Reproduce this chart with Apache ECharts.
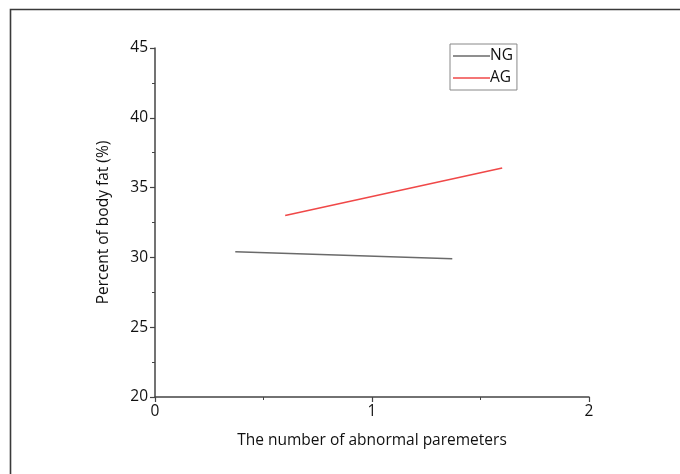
<!DOCTYPE html>
<html>
<head>
<meta charset="utf-8">
<script src="https://cdn.jsdelivr.net/npm/echarts@6/dist/echarts.min.js"></script>
<style>html,body{margin:0;padding:0;background:#fff;}#c{width:680px;height:474px;}</style>
</head>
<body>
<div id="c"></div>
<script>
const seriesNames = ['NG', 'AG'];
const ngData = [[0.37, 30.4], [1.37, 29.9]];
const agData = [[0.6, 33.0], [1.6, 36.4]];
const xTicks = [0, 1, 2];
const yTicks = [20, 25, 30, 35, 40, 45];

const chart = echarts.init(document.getElementById('c'), null, {renderer: 'canvas'});
const font = 'Open Sans';
const axisCol = '#444';
const fs = 15.5;
chart.setOption({
  backgroundColor: '#fff',
  animation: false,
  graphic: [{
    type: 'rect', left: 8, top: 7, shape: {width: 700, height: 500},
    style: {fill: 'none', stroke: '#3a3a3a', lineWidth: 1.6}
  }],
  grid: {left: 155, right: 91, top: 48, bottom: 77},
  legend: {
    data: seriesNames, orient: 'vertical', left: 450, top: 44,
    icon: 'rect', itemWidth: 37, itemHeight: 1.5, itemGap: 6,
    padding: [4, 4, 4, 3],
    borderColor: '#888', borderWidth: 1,
    textStyle: {fontFamily: font, fontSize: fs, color: '#111', padding: [0, 0, 0, -5], lineHeight: 14}
  },
  xAxis: {
    type: 'value', min: xTicks[0], max: xTicks[xTicks.length - 1], interval: 1,
    name: 'The number of abnormal paremeters', nameLocation: 'middle', nameGap: 36,
    nameTextStyle: {fontFamily: font, fontSize: fs, color: '#111'},
    axisLine: {show: true, lineStyle: {color: axisCol, width: 1.5}},
    axisTick: {show: true, inside: false, length: 5, lineStyle: {color: axisCol, width: 1.2}},
    minorTick: {show: true, splitNumber: 2, length: 3, lineStyle: {color: axisCol, width: 1}},
    axisLabel: {fontFamily: font, fontSize: fs, color: '#111', margin: 7},
    splitLine: {show: false}
  },
  yAxis: {
    type: 'value', min: yTicks[0], max: yTicks[yTicks.length - 1], interval: 5,
    name: 'Percent of body fat (%)', nameLocation: 'middle', nameGap: 43, nameRotate: 90,
    nameTextStyle: {fontFamily: font, fontSize: fs, color: '#111'},
    axisLine: {show: true, lineStyle: {color: axisCol, width: 1.5}},
    axisTick: {show: true, inside: false, length: 5, lineStyle: {color: axisCol, width: 1.2}},
    minorTick: {show: true, splitNumber: 2, length: 3, lineStyle: {color: axisCol, width: 1}},
    axisLabel: {fontFamily: font, fontSize: fs, color: '#111', margin: 7},
    splitLine: {show: false}
  },
  series: [
    {name: 'NG', type: 'line', data: ngData, symbol: 'none', lineStyle: {color: '#6a6a6a', width: 1.6}, itemStyle: {color: '#6a6a6a'}},
    {name: 'AG', type: 'line', data: agData, symbol: 'none', lineStyle: {color: '#f04848', width: 1.6}, itemStyle: {color: '#f04848'}}
  ]
});
</script>
</body>
</html>
